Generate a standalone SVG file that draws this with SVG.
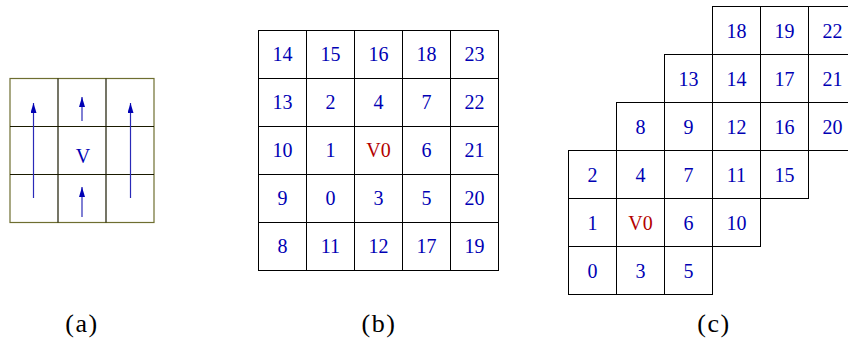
<svg xmlns="http://www.w3.org/2000/svg" width="848" height="349" viewBox="0 0 848 349">
<style>
.c{fill:#fff;stroke:#000;stroke-width:1}
.n{font-family:"Liberation Serif","Times New Roman",serif;font-size:20px;fill:#0000b4;text-anchor:middle}
.r{fill:#b40000}
.lab{font-family:"Liberation Serif","Times New Roman",serif;font-size:26px;fill:#000;text-anchor:middle;letter-spacing:1.5px}
.ar{stroke:#2a2ab8;stroke-width:1.2;fill:none;marker-end:url(#ah)}
</style>
<defs>
<marker id="ah" viewBox="0 0 10 6" refX="10" refY="3" markerWidth="10" markerHeight="6" markerUnits="userSpaceOnUse" orient="auto">
<path d="M0,0 L10,3 L0,6 Z" fill="#0000b4"/>
</marker>
</defs>
<rect width="848" height="349" fill="#fff"/>

<g id="gridA">
<rect x="10" y="78.5" width="144" height="144" fill="#fff" stroke="#6e6e30" stroke-width="1.2"/>
<g stroke="#1a1a00" stroke-width="1.2">
<line x1="58" y1="78.5" x2="58" y2="222.5"/>
<line x1="106" y1="78.5" x2="106" y2="222.5"/>
<line x1="10" y1="126.5" x2="154" y2="126.5"/>
<line x1="10" y1="174.5" x2="154" y2="174.5"/>
</g>
<text class="n" x="83" y="162.5" fill="#00008c">V</text>
</g>

<g id="arrows">
<line class="ar" x1="33.5" y1="198" x2="33.5" y2="103"/>
<line class="ar" x1="130.5" y1="198" x2="130.5" y2="103"/>
<line class="ar" x1="82" y1="121" x2="82" y2="97"/>
<line class="ar" x1="82" y1="217" x2="82" y2="187"/>
</g>

<g id="gridB">
<rect class="c" x="258.5" y="30.5" width="48" height="48"/><rect class="c" x="306.5" y="30.5" width="48" height="48"/><rect class="c" x="354.5" y="30.5" width="48" height="48"/><rect class="c" x="402.5" y="30.5" width="48" height="48"/><rect class="c" x="450.5" y="30.5" width="48" height="48"/>
<rect class="c" x="258.5" y="78.5" width="48" height="48"/><rect class="c" x="306.5" y="78.5" width="48" height="48"/><rect class="c" x="354.5" y="78.5" width="48" height="48"/><rect class="c" x="402.5" y="78.5" width="48" height="48"/><rect class="c" x="450.5" y="78.5" width="48" height="48"/>
<rect class="c" x="258.5" y="126.5" width="48" height="48"/><rect class="c" x="306.5" y="126.5" width="48" height="48"/><rect class="c" x="354.5" y="126.5" width="48" height="48"/><rect class="c" x="402.5" y="126.5" width="48" height="48"/><rect class="c" x="450.5" y="126.5" width="48" height="48"/>
<rect class="c" x="258.5" y="174.5" width="48" height="48"/><rect class="c" x="306.5" y="174.5" width="48" height="48"/><rect class="c" x="354.5" y="174.5" width="48" height="48"/><rect class="c" x="402.5" y="174.5" width="48" height="48"/><rect class="c" x="450.5" y="174.5" width="48" height="48"/>
<rect class="c" x="258.5" y="222.5" width="48" height="48"/><rect class="c" x="306.5" y="222.5" width="48" height="48"/><rect class="c" x="354.5" y="222.5" width="48" height="48"/><rect class="c" x="402.5" y="222.5" width="48" height="48"/><rect class="c" x="450.5" y="222.5" width="48" height="48"/>
<text class="n" x="282.5" y="61">14</text><text class="n" x="330.5" y="61">15</text><text class="n" x="378.5" y="61">16</text><text class="n" x="426.5" y="61">18</text><text class="n" x="474.5" y="61">23</text>
<text class="n" x="282.5" y="109">13</text><text class="n" x="330.5" y="109">2</text><text class="n" x="378.5" y="109">4</text><text class="n" x="426.5" y="109">7</text><text class="n" x="474.5" y="109">22</text>
<text class="n" x="282.5" y="157">10</text><text class="n" x="330.5" y="157">1</text><text class="n r" x="378.5" y="157">V0</text><text class="n" x="426.5" y="157">6</text><text class="n" x="474.5" y="157">21</text>
<text class="n" x="282.5" y="205">9</text><text class="n" x="330.5" y="205">0</text><text class="n" x="378.5" y="205">3</text><text class="n" x="426.5" y="205">5</text><text class="n" x="474.5" y="205">20</text>
<text class="n" x="282.5" y="253">8</text><text class="n" x="330.5" y="253">11</text><text class="n" x="378.5" y="253">12</text><text class="n" x="426.5" y="253">17</text><text class="n" x="474.5" y="253">19</text>
</g>

<g id="gridC">
<rect class="c" x="712.5" y="6.5" width="48" height="48"/><rect class="c" x="760.5" y="6.5" width="48" height="48"/><rect class="c" x="808.5" y="6.5" width="48" height="48"/>
<rect class="c" x="664.5" y="54.5" width="48" height="48"/><rect class="c" x="712.5" y="54.5" width="48" height="48"/><rect class="c" x="760.5" y="54.5" width="48" height="48"/><rect class="c" x="808.5" y="54.5" width="48" height="48"/>
<rect class="c" x="616.5" y="102.5" width="48" height="48"/><rect class="c" x="664.5" y="102.5" width="48" height="48"/><rect class="c" x="712.5" y="102.5" width="48" height="48"/><rect class="c" x="760.5" y="102.5" width="48" height="48"/><rect class="c" x="808.5" y="102.5" width="48" height="48"/>
<rect class="c" x="568.5" y="150.5" width="48" height="48"/><rect class="c" x="616.5" y="150.5" width="48" height="48"/><rect class="c" x="664.5" y="150.5" width="48" height="48"/><rect class="c" x="712.5" y="150.5" width="48" height="48"/><rect class="c" x="760.5" y="150.5" width="48" height="48"/>
<rect class="c" x="568.5" y="198.5" width="48" height="48"/><rect class="c" x="616.5" y="198.5" width="48" height="48"/><rect class="c" x="664.5" y="198.5" width="48" height="48"/><rect class="c" x="712.5" y="198.5" width="48" height="48"/>
<rect class="c" x="568.5" y="246.5" width="48" height="48"/><rect class="c" x="616.5" y="246.5" width="48" height="48"/><rect class="c" x="664.5" y="246.5" width="48" height="48"/>
<text class="n" x="736.5" y="37.5">18</text><text class="n" x="784.5" y="37.5">19</text><text class="n" x="832.5" y="37.5">22</text>
<text class="n" x="688.5" y="85.5">13</text><text class="n" x="736.5" y="85.5">14</text><text class="n" x="784.5" y="85.5">17</text><text class="n" x="832.5" y="85.5">21</text>
<text class="n" x="640.5" y="133.5">8</text><text class="n" x="688.5" y="133.5">9</text><text class="n" x="736.5" y="133.5">12</text><text class="n" x="784.5" y="133.5">16</text><text class="n" x="832.5" y="133.5">20</text>
<text class="n" x="592.5" y="181.5">2</text><text class="n" x="640.5" y="181.5">4</text><text class="n" x="688.5" y="181.5">7</text><text class="n" x="736.5" y="181.5">11</text><text class="n" x="784.5" y="181.5">15</text>
<text class="n" x="592.5" y="229.5">1</text><text class="n r" x="640.5" y="229.5">V0</text><text class="n" x="688.5" y="229.5">6</text><text class="n" x="736.5" y="229.5">10</text>
<text class="n" x="592.5" y="277.5">0</text><text class="n" x="640.5" y="277.5">3</text><text class="n" x="688.5" y="277.5">5</text>
</g>

<g id="labels">
<text class="lab" x="82" y="332">(a)</text>
<text class="lab" x="379" y="332">(b)</text>
<text class="lab" x="714" y="332">(c)</text>
</g>
</svg>
